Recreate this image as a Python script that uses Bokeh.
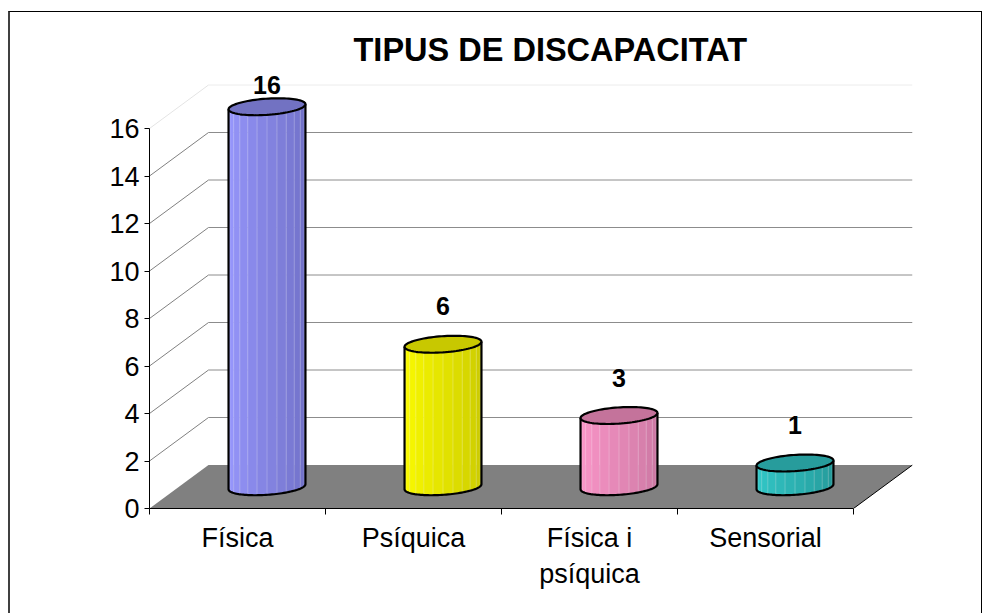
import numpy as np
from bokeh.plotting import figure
from bokeh.models import Range1d, LinearAxis, FixedTicker, ColumnDataSource
from bokeh.core.properties import value
from bokeh.embed import file_html
from bokeh.resources import INLINE

# ---------------- data ----------------
categories = ["Física", "Psíquica", "Física i\npsíquica", "Sensorial"]
values = [16, 6, 3, 1]
y_ticks = [0, 2, 4, 6, 8, 10, 12, 14, 16]
title_text = "TIPUS DE DISCAPACITAT"

side_light = [(153, 153, 255), (255, 255, 0), (255, 153, 204), (51, 204, 204)]
side_dark = [(110, 110, 196), (200, 200, 0), (200, 118, 160), (36, 150, 150)]
top_colors = ["#7272c2", "#c8c800", "#c4739b", "#279c9c"]

# ---------------- geometry / style ----------------
FONT = "Liberation Sans"
PX_X = 176.0      # px per category
PX_Y = 23.75      # px per value unit
DX = 59.0 / PX_X  # depth offset (x) in category units
DY = 43.5 / PX_Y  # depth offset (y) in value units
RX = 36.7 / PX_X  # cylinder radius along x
RZ = 0.195        # cylinder radius along depth (fraction of depth)
Y_TOP = (508 - 70) / PX_Y
N = len(values)

W, H = 974, 602
p = figure(width=W, height=H,
           x_range=Range1d(0, N + DX), y_range=Range1d(0, Y_TOP),
           output_backend="svg", toolbar_location=None,
           x_axis_type=None, y_axis_type=None,
           min_border_left=139, min_border_right=W - 902,
           min_border_top=58, min_border_bottom=H - 496)
p.outline_line_color = None
p.background_fill_color = "white"
p.border_fill_color = "white"
p.styles = {"border-top": "1px solid #000000",
            "border-left": "2px solid #404040",
            "border-right": "1px solid #000000",
            "margin-top": "11px",
            "margin-left": "8px"}

# title
p.title.text = title_text
p.title.text_font = FONT
p.title.text_font_size = "32.5px"
p.title.text_font_style = "bold"
p.title.text_color = "black"
p.title.align = "left"
p.title.offset = 204
p.title.standoff = 6

# axes
yaxis = LinearAxis(ticker=FixedTicker(ticks=y_ticks), bounds=(0, max(y_ticks)))
yaxis.axis_line_color = "black"
yaxis.major_tick_line_color = "black"
yaxis.major_tick_out = 5
yaxis.major_tick_in = 0
yaxis.minor_tick_line_color = None
yaxis.major_label_text_font = FONT
yaxis.major_label_text_font_size = "27px"
yaxis.major_label_text_color = "black"
yaxis.major_label_standoff = 5
p.add_layout(yaxis, "left")

centers = [i + 0.5 for i in range(N)]
xaxis = LinearAxis(ticker=FixedTicker(ticks=centers, minor_ticks=list(range(N + 1))),
                   bounds=(0, N))
xaxis.major_label_overrides = {c: lab for c, lab in zip(centers, categories)}
xaxis.major_tick_line_color = None
xaxis.minor_tick_out = 6
xaxis.minor_tick_in = 0
xaxis.minor_tick_line_color = "black"
xaxis.axis_line_color = "black"
xaxis.major_label_text_font = FONT
xaxis.major_label_text_font_size = "27px"
xaxis.major_label_text_color = "black"
xaxis.major_label_standoff = 8
p.add_layout(xaxis, "below")

# back wall gridlines and side wall diagonals
inner = [t for t in y_ticks if 0 < t < max(y_ticks)]
p.segment(x0=[DX] * len(inner), y0=[t + DY for t in inner],
          x1=[N + DX] * len(inner), y1=[t + DY for t in inner],
          line_color="#8c8c8c", line_width=1)
p.segment(x0=[DX], y0=[max(y_ticks) + DY], x1=[N + DX], y1=[max(y_ticks) + DY],
          line_color="#ececec", line_width=1)
p.segment(x0=[0] * len(inner), y0=inner, x1=[DX] * len(inner),
          y1=[t + DY for t in inner], line_color="#808080", line_width=1)
p.segment(x0=[0], y0=[max(y_ticks)], x1=[DX], y1=[max(y_ticks) + DY],
          line_color="#e4e4e4", line_width=1)

# floor
p.patch(x=[0, N, N + DX, DX], y=[0, 0, DY, DY], fill_color="#808080", line_color=None)
p.line(x=[N, N + DX], y=[0, DY], line_color="black", line_width=1)


def ell(xc, th, v):
    x = xc + RX * np.cos(th)
    z = 0.5 - RZ * np.sin(th)
    return x + z * DX, v + z * DY


theta0 = np.arctan(-RZ * DX / RX)
thL, thR = np.pi + theta0, theta0
NS = 12


def mix(a, b, f):
    return "#%02x%02x%02x" % tuple(int(round(a[k] + (b[k] - a[k]) * f)) for k in range(3))


for i, v in enumerate(values):
    xc = centers[i]
    ths = np.linspace(thL, thR, NS + 1)
    xs, ys, cols = [], [], []
    for k in range(NS):
        seg = np.linspace(ths[k], ths[k + 1], 6)
        tx, ty = ell(xc, seg, v)
        bx, by = ell(xc, seg[::-1], 0.0)
        xs.append(list(tx) + list(bx))
        ys.append(list(ty) + list(by))
        cols.append(mix(side_light[i], side_dark[i], k / (NS - 1)))
    p.patches(xs=xs, ys=ys, fill_color=cols, line_color=cols, line_width=0.6)
    # faint strip lines
    bxs, bys = [], []
    for k in range(1, NS):
        tx, ty = ell(xc, ths[k], v)
        bx, by = ell(xc, ths[k], 0.0)
        bxs.append([tx, bx]); bys.append([ty, by])
    p.multi_line(xs=bxs, ys=bys, line_color="white", line_alpha=0.25, line_width=1)
    # silhouette
    arc = np.linspace(thL, thR, 60)
    ax_, ay_ = ell(xc, arc, 0.0)
    lx, ly = ell(xc, thL, v)
    rx_, ry_ = ell(xc, thR, v)
    p.line(x=[lx] + list(ax_) + [rx_], y=[ly] + list(ay_) + [ry_],
           line_color="black", line_width=2.2, line_join="round")
    # top
    full = np.linspace(0, 2 * np.pi, 90)
    ex, ey = ell(xc, full, v)
    p.patch(x=ex, y=ey, fill_color=top_colors[i], line_color="black", line_width=2.2)

# data labels (text centred vertically above each cylinder top)
LABEL_GAP = 38 / PX_Y
LABEL_MAX = (508 - 84) / PX_Y
lab_src = ColumnDataSource(dict(
    x=[c + DX / 2 for c in centers],
    y=[min(v + DY / 2 + LABEL_GAP, LABEL_MAX) for v in values],
    t=[str(v) for v in values]))
p.text(x="x", y="y", text="t", source=lab_src, text_align="center",
       text_baseline="middle", text_font=value(FONT), text_font_size="25px",
       text_font_style="bold", text_color="black")

open("out.html", "w").write(file_html(p, INLINE))
